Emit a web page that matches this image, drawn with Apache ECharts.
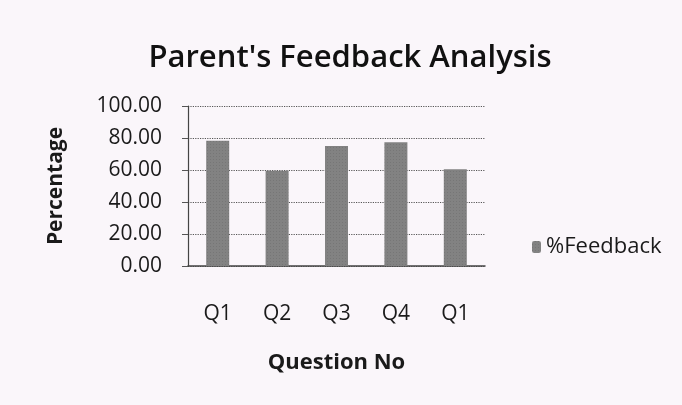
<!DOCTYPE html>
<html>
<head>
<meta charset="utf-8">
<script src="https://cdn.jsdelivr.net/npm/echarts@6/dist/echarts.min.js"></script>
<style>
  html, body { margin: 0; padding: 0; background: #faf6fa; }
  #chart { width: 682px; height: 405px; }
</style>
</head>
<body>
<div id="chart"></div>
<script>
const questions = ['Q1', 'Q2', 'Q3', 'Q4', 'Q1'];
const feedback = [78.3, 59.6, 75.0, 77.3, 60.4];
const yTicks = [0, 20, 40, 60, 80, 100];

const chart = echarts.init(document.getElementById('chart'));

const font = '"Open Sans", Lato, sans-serif';

chart.setOption({
    backgroundColor: '#faf6fa',
    animation: false,
    title: {
        text: "Parent's Feedback Analysis",
        left: 345,
        top: 38,
        textAlign: 'center',
        textStyle: { fontFamily: font, fontSize: 31, fontWeight: 600, color: '#111' }
    },
    legend: {
        data: ['%Feedback'],
        left: 527,
        top: 231,
        itemWidth: 9,
        itemHeight: 12,
        itemGap: 8,
        textStyle: { fontFamily: font, fontSize: 22, color: '#1a1a1a' }
    },
    grid: { left: 188, right: 197, top: 106, bottom: 139 },
    xAxis: {
        type: 'category',
        data: questions,
        name: 'Question No',
        nameLocation: 'middle',
        nameGap: 86,
        nameTextStyle: { fontFamily: font, fontSize: 22, fontWeight: 'bold', color: '#1a1a1a' },
        axisLine: { lineStyle: { color: '#444', width: 1.5 } },
        axisTick: { show: false },
        axisLabel: { fontFamily: font, fontSize: 21, color: '#1a1a1a', margin: 38 }
    },
    yAxis: {
        type: 'value',
        min: yTicks[0],
        max: yTicks[yTicks.length - 1],
        interval: 20,
        name: 'Percentage',
        nameLocation: 'middle',
        nameGap: 121,
        nameTextStyle: { fontFamily: font, fontSize: 21, fontWeight: 'bold', color: '#1a1a1a' },
        axisLine: { show: true, lineStyle: { color: '#444', width: 1.2 } },
        axisTick: { show: true, length: 6, lineStyle: { color: '#555' } },
        axisLabel: {
            fontFamily: font, fontSize: 21, color: '#1a1a1a', margin: 26,
            formatter: v => v.toFixed(2)
        },
        splitLine: { lineStyle: { color: '#555', type: 'dotted', width: 1.2 } }
    },
    series: [{
        name: '%Feedback',
        type: 'bar',
        data: feedback,
        barWidth: 23,
        itemStyle: {
            color: '#828282',
            decal: {
                symbol: 'rect',
                symbolSize: 0.6,
                dashArrayX: [1, 2],
                dashArrayY: [1, 2],
                color: 'rgba(40,40,40,0.4)',
                rotation: 0
            }
        }
    }],
    aria: { enabled: false }
});
</script>
</body>
</html>
